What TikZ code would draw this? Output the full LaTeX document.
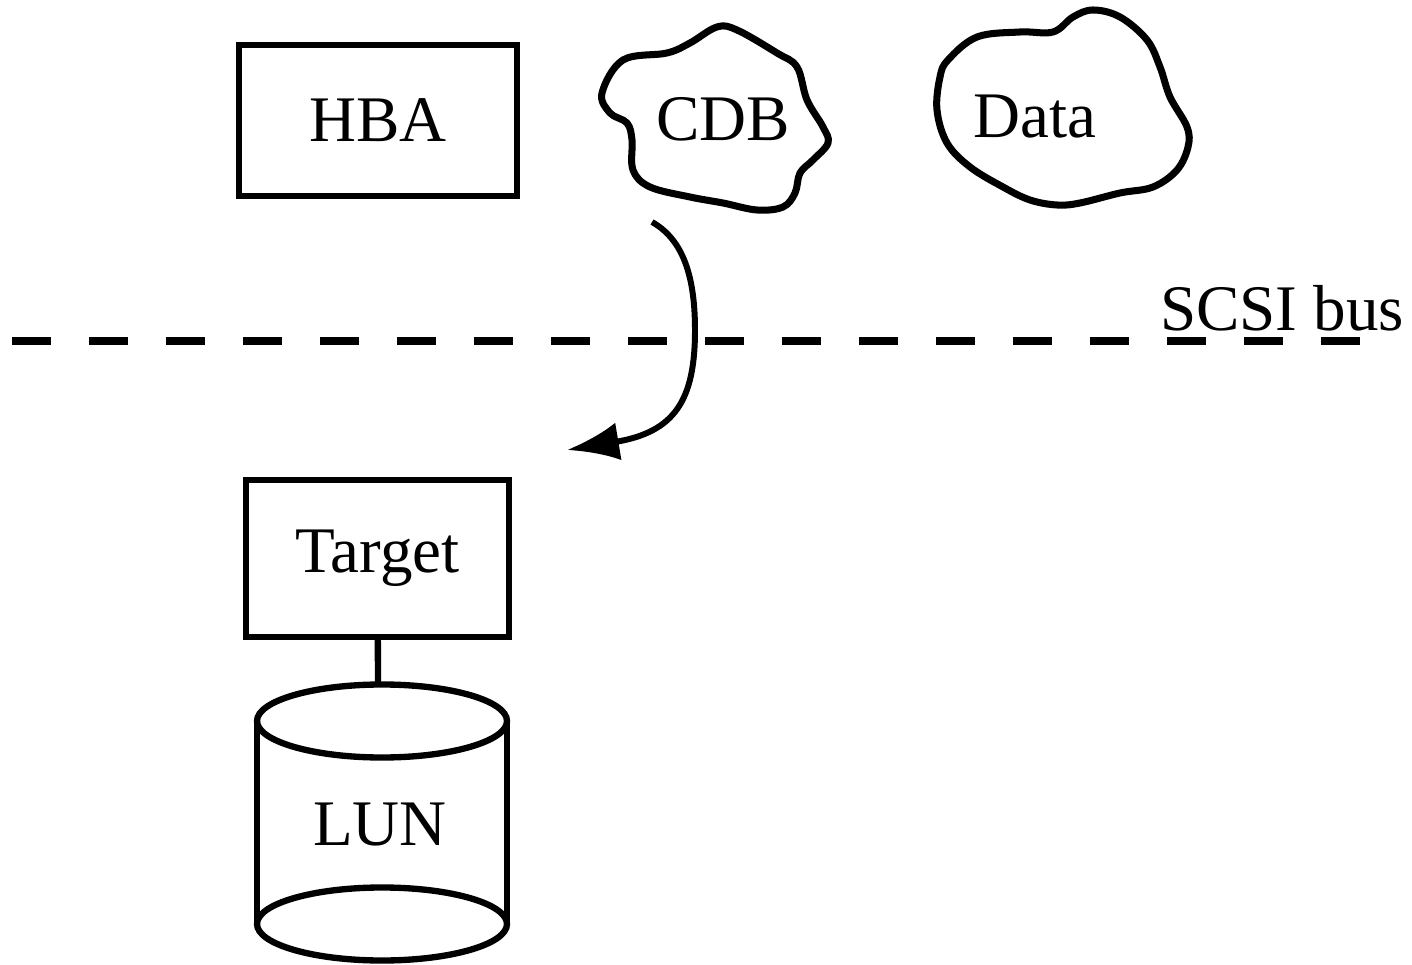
\documentclass[tikz,border=0pt]{standalone}
\usepackage{fontspec}
\setmainfont{Liberation Serif}
\usetikzlibrary{arrows.meta}

\begin{document}
\begin{tikzpicture}[box/.style={draw, line width=1.8pt, align=center}, blob/.style={line width=2pt, line join=round}, font=\fontsize{18.5}{22}\selectfont]
	\useasboundingbox (0,0) rectangle (14.12,-9.65);
	\node[box, minimum width=2.78cm, minimum height=1.51cm] (H) at (3.78,-1.205) {HBA};
	\node (C) at (7.23,-1.19) {CDB};
	\node (D) at (10.35,-1.17) {Data};
	\node[box, minimum width=2.63cm, minimum height=1.57cm] (T) at (3.775,-5.585) {Target};
	\node (L) at (3.80,-8.25) {LUN};
	\node (S) at (12.82,-3.08) {SCSI bus};
	\coordinate (b1) at (0.12,-3.41);
	\coordinate (b2) at (13.62,-3.41);
	\coordinate (c1) at (6.52,-2.22);
	\coordinate (t1) at (5.67,-4.50);
	\coordinate (Ltop) at (3.78,-6.845);
	% clouds
	\draw[blob] plot[smooth cycle, tension=0.6] coordinates {(6.02,-0.93) (6.23,-0.60) (6.67,-0.53) (6.90,-0.43) (7.17,-0.27) (7.37,-0.30) (7.77,-0.53) (7.97,-0.67) (8.07,-1.00) (8.23,-1.27) (8.28,-1.43) (8.13,-1.60) (8.00,-1.73) (7.95,-1.93) (7.83,-2.07) (7.57,-2.10) (7.23,-2.03) (6.90,-1.97) (6.50,-1.87) (6.33,-1.70) (6.32,-1.40) (6.27,-1.23) (6.10,-1.13)};
	\draw[blob] plot[smooth cycle, tension=0.6] coordinates {(9.48,-0.60) (9.77,-0.37) (10.20,-0.32) (10.53,-0.32) (10.73,-0.17) (10.93,-0.10) (11.20,-0.17) (11.47,-0.40) (11.60,-0.67) (11.70,-0.97) (11.87,-1.27) (11.88,-1.47) (11.77,-1.70) (11.53,-1.87) (11.20,-1.93) (10.80,-2.03) (10.57,-2.05) (10.30,-2.00) (10.03,-1.87) (9.70,-1.67) (9.47,-1.43) (9.37,-1.10) (9.40,-0.77)};
	% LUN cylinder
	\draw[line width=1.8pt] (3.82,-7.21) ellipse [x radius=1.25, y radius=0.365];
	\draw[line width=1.8pt] (2.57,-7.21) -- (2.57,-9.24) (5.07,-7.21) -- (5.07,-9.24);
	\draw[line width=1.8pt] (3.82,-9.24) ellipse [x radius=1.25, y radius=0.365];
	\draw[line width=1.8pt] (T) -- (Ltop);
	\draw[line width=2.3pt, dash pattern=on 0.39cm off 0.38cm] (b1) -- (b2);
	\draw[line width=1.7pt, -{Latex[length=0.52cm, width=0.38cm]}] (c1) .. controls (6.80,-2.38) and (6.95,-2.70) .. (6.95,-3.30) .. controls (6.95,-4.00) and (6.75,-4.32) .. (t1);
\end{tikzpicture}
\end{document}
